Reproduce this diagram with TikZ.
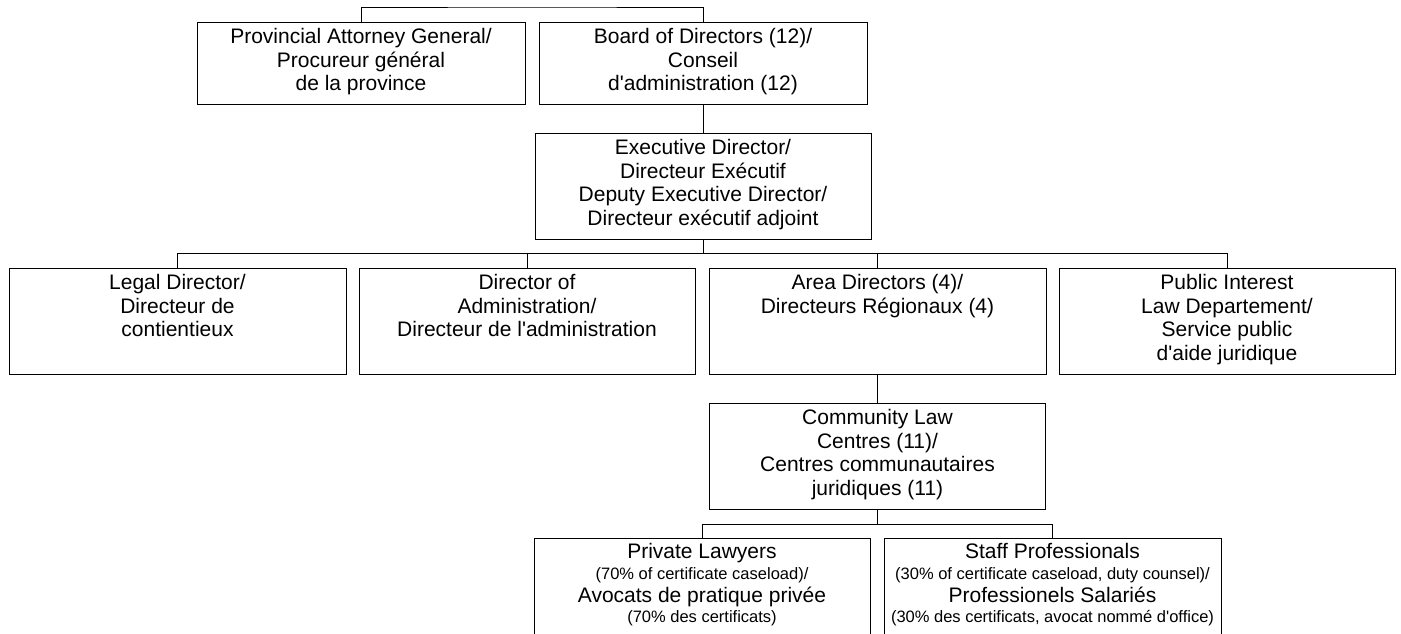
\documentclass[tikz,border=0pt]{standalone}
\usepackage{fontspec}
\setmainfont{Liberation Sans}[Ligatures=TeXOff]
\newcommand\Lbig[1]{{\fontsize{21}{0}\selectfont\rule[-6pt]{0pt}{23pt}#1}}
\newcommand\Lsmall[1]{{\fontsize{16.5}{0}\selectfont\rule[-6pt]{0pt}{20.5pt}#1}}
\newcommand\mixfont{\fontsize{21}{0}\selectfont\lineskip=0pt\lineskiplimit=0pt}
\begin{document}
\begin{tikzpicture}[x=1pt,y=-1pt,
  box/.style={draw, line width=1pt, inner sep=0pt, rectangle},
  lbl/.style={inner sep=0pt, align=center, anchor=north, font=\fontsize{21}{23.5}\selectfont},
  mixlbl/.style={inner sep=0pt, align=center, anchor=north, font=\mixfont},
  conn/.style={line width=1pt}]
\useasboundingbox (0,0) rectangle (1401,633);
\fill[white] (0,0) rectangle (1401,633);
\clip (0,0) rectangle (1401,633);

% boxes
\node[box, minimum width=328pt, minimum height=82pt] (prov) at (361,63) {};
\node[box, minimum width=328pt, minimum height=82pt] (board) at (703,63) {};
\node[box, minimum width=336pt, minimum height=106pt] (exec) at (703,186) {};
\node[box, minimum width=337pt, minimum height=106pt] (legal) at (177.5,321) {};
\node[box, minimum width=336pt, minimum height=106pt] (admin) at (527,321) {};
\node[box, minimum width=337pt, minimum height=106pt] (area) at (877.5,321) {};
\node[box, minimum width=336pt, minimum height=106pt] (public) at (1227,321) {};
\node[box, minimum width=336pt, minimum height=106pt] (comm) at (877.5,456) {};
\node[box, minimum width=336pt, minimum height=124pt] (priv) at (702,600) {};
\node[box, minimum width=337pt, minimum height=124pt] (staff) at (1052.5,600) {};

% labels
\node[lbl] (prov-t) at ([yshift=-5.5pt]prov.north) {\strut Provincial Attorney General/\\\strut Procureur général\\\strut de la province};
\node[lbl] (board-t) at ([yshift=-5.5pt]board.north) {\strut Board of Directors (12)/\\\strut Conseil\\\strut d'administration (12)};
\node[lbl] (exec-t) at ([yshift=-5.5pt]exec.north) {\strut Executive Director/\\\strut Directeur Exécutif\\\strut Deputy Executive Director/\\\strut Directeur exécutif adjoint};
\node[lbl] (legal-t) at ([yshift=-5.5pt]legal.north) {\strut Legal Director/\\\strut Directeur de\\\strut contientieux};
\node[lbl] (admin-t) at ([yshift=-5.5pt]admin.north) {\strut Director of\\\strut Administration/\\\strut Directeur de l'administration};
\node[lbl] (area-t) at ([yshift=-5.5pt]area.north) {\strut Area Directors (4)/\\\strut Directeurs Régionaux (4)};
\node[lbl] (public-t) at ([yshift=-5.5pt]public.north) {\strut Public Interest\\\strut Law Departement/\\\strut Service public\\\strut d'aide juridique};
\node[lbl] (comm-t) at ([yshift=-5.5pt]comm.north) {\strut Community Law\\\strut Centres (11)/\\\strut Centres communautaires\\\strut juridiques (11)};
\node[mixlbl] (priv-t) at ([yshift=-4pt]priv.north) {\Lbig{Private Lawyers}\\\Lsmall{(70\% of certificate caseload)/}\\\Lbig{Avocats de pratique privée}\\\Lsmall{(70\% des certificats)}};
\node[mixlbl] (staff-t) at ([yshift=-4pt]staff.north) {\Lbig{Staff Professionals}\\\Lsmall{(30\% of certificate caseload, duty counsel)/}\\\Lbig{Professionels Salariés}\\\Lsmall{(30\% des certificats, avocat nommé d'office)}};

% connectors
\coordinate (topmid) at (532,7);
\draw[conn] (prov.north) |- (topmid) -| (board.north);
\draw[conn] (board.south) -- (exec.north);
\coordinate (bar1) at (703,253);
\draw[conn] (exec.south) -- (bar1);
\draw[conn] (legal.north) |- (bar1);
\draw[conn] (admin.north) |- (bar1);
\draw[conn] (area.north) |- (bar1);
\draw[conn] (public.north) |- (bar1);
\draw[conn] (area.south) -- (comm.north);
\coordinate (bar2) at (877.5,524);
\draw[conn] (comm.south) -- (bar2);
\draw[conn] (priv.north) |- (bar2);
\draw[conn] (staff.north) |- (bar2);
\end{tikzpicture}
\end{document}
